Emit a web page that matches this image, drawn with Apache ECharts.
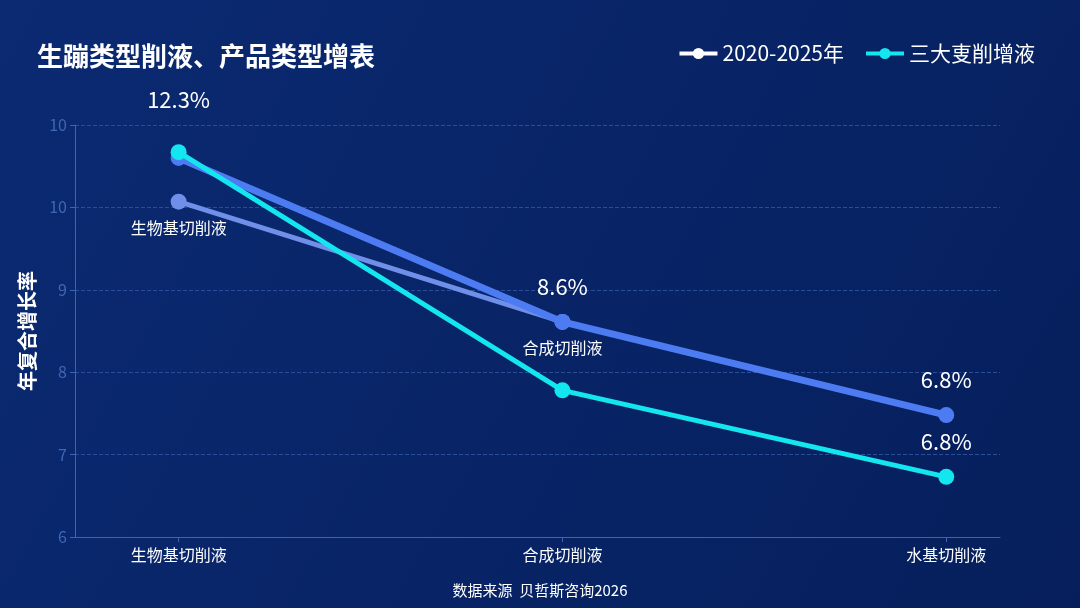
<!DOCTYPE html>
<html><head><meta charset="utf-8">
<script src="https://cdn.jsdelivr.net/npm/echarts@6/dist/echarts.min.js"></script>
<style>html,body{margin:0;padding:0;background:#082566}#c{width:1080px;height:608px}</style>
</head><body><div id="c"></div>
<script>
const categories = ['生物基切削液','合成切削液','水基切削液'];
const seriesA = [10.6, 8.61, 7.48];
const seriesB = [10.67, 7.78, 6.73];
const seriesC = [10.07, 8.61];
const labelsA = ['', '8.6%', '6.8%'];
const labelsB = ['12.3%', '', '6.8%'];
const yTickText = {6:'6',7:'7',8:'8',9:'9',10:'10',11:'10'};
const pts = (arr) => arr.map((v,i)=>[i,v]);
const chart = echarts.init(document.getElementById('c'));
const mk = (name, data, color, labels, w, z) => ({
  name, type:'line', data: pts(data), z,
  symbol:'circle', symbolSize:16, lineStyle:{width:w,color}, itemStyle:{color},
  label:{show:!!labels, position:'top', distance:16, color:'#fff', fontSize:22,
    fontFamily:'Noto Sans CJK SC', formatter:p=>labels?labels[p.dataIndex]:''}
});
const sB = mk('三大叓削增液',seriesB,'#14e6f0',labelsB,5,3);
sB.data[0] = {value:[0,seriesB[0]], label:{distance:34}};
chart.setOption({
  backgroundColor:{type:'linear',x:0,y:0,x2:1,y2:1,colorStops:[{offset:0,color:'#0b2a72'},{offset:1,color:'#061f5c'}]},
  textStyle:{fontFamily:'Noto Sans CJK SC'},
  title:[{text:'生蹦类型削液、产品类型增表',left:32,top:38,textStyle:{color:'#fff',fontSize:26,fontWeight:'bold'}},
         {text:'数据来源  贝哲斯咨询2026',left:'center',top:578,textStyle:{color:'#fff',fontSize:15,fontWeight:'normal'}}],
  legend:{top:38,right:40,itemWidth:38,itemHeight:14,itemGap:20,textStyle:{color:'#fff',fontSize:21},
    data:[{name:'2020-2025年',itemStyle:{color:'#fff'},lineStyle:{color:'#fff',width:4}},
          {name:'三大叓削增液',itemStyle:{color:'#14e6f0'},lineStyle:{width:4}}]},
  grid:{left:75,right:80,top:125,bottom:71},
  xAxis:{type:'value',min:-0.27,max:2.14,splitLine:{show:false},
    axisLine:{lineStyle:{color:'#3a64b8'}},
    axisTick:{customValues:[0,1,2],lineStyle:{color:'#3a64b8'}},
    axisLabel:{customValues:[0,1,2],formatter:v=>categories[Math.round(v)],color:'#fff',fontSize:16,margin:10}},
  yAxis:{type:'value',min:6,max:11,interval:1,name:'年复合增长率',nameLocation:'middle',nameGap:38,
    nameTextStyle:{color:'#fff',fontSize:20,fontWeight:'bold'},
    axisLine:{show:true,onZero:false,lineStyle:{color:'#3a64b8'}},axisTick:{show:true,lineStyle:{color:'#3a64b8'}},
    axisLabel:{color:'#3f67b5',fontSize:16,formatter:v=>yTickText[v]},
    splitLine:{lineStyle:{color:'#2a4d99',type:'dashed'}}},
  series:[
    Object.assign(mk('生物基',seriesC,'#6f8fe8',null,5,1),{label:{show:true,position:'bottom',distance:10,color:'#fff',fontSize:16,formatter:p=>p.dataIndex===0?'生物基切削液':'合成切削液'}}),
    mk('2020-2025年',seriesA,'#4d7cf2',labelsA,7,2),
    sB
  ]
});
</script></body></html>
